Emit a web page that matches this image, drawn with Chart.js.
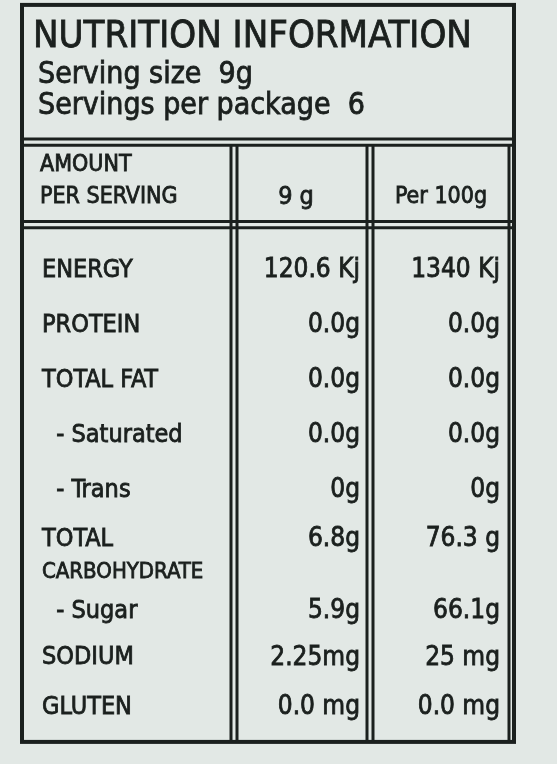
<!DOCTYPE html>
<html><head><meta charset="utf-8">
<script src="https://cdn.jsdelivr.net/npm/chart.js@4"></script>
<style>html,body{margin:0;padding:0;background:#e2e8e5}#wrap{width:557px;height:764px}</style>
</head><body><div id="wrap"><canvas id="c"></canvas></div>
<script>
var title = 'NUTRITION INFORMATION';
var serving = ['Serving size  9g', 'Servings per package  6'];
var headers = ['9 g', 'Per 100g'];
var nutrients = ['ENERGY', 'PROTEIN', 'TOTAL FAT', '  - Saturated', '  - Trans', 'TOTAL', '  - Sugar', 'SODIUM', 'GLUTEN'];
var perServe = ['120.6 Kj', '0.0g', '0.0g', '0.0g', '0g', '6.8g', '5.9g', '2.25mg', '0.0 mg'];
var per100 = ['1340 Kj', '0.0g', '0.0g', '0.0g', '0g', '76.3 g', '66.1g', '25 mg', '0.0 mg'];
var rowSteps = [0, 1, 2, 3, 4, 4.9, 6.2, 7.05, 7.95];

const ink = '#1b201e';
const FONT = '"Liberation Sans Narrow", "DejaVu Sans Condensed", "Liberation Sans", sans-serif';

function txt(ctx, s, x, y, size, align, maxW) {
    ctx.font = size + 'px ' + FONT;
    ctx.textAlign = align;
    ctx.textBaseline = 'middle';
    ctx.lineWidth = 0.8;
    if (maxW) { ctx.fillText(s, x, y, maxW); ctx.strokeText(s, x, y, maxW); }
    else { ctx.fillText(s, x, y); ctx.strokeText(s, x, y); }
}

const labelPlugin = {
    id: 'label',
    afterDraw(chart) {
        const ctx = chart.ctx;
        const xs = chart.scales.x, ys = chart.scales.y;
        const X = v => xs.getPixelForValue(v), Y = v => ys.getPixelForValue(v);
        const bottom = 8.58;
        ctx.save();
        ctx.fillStyle = ink;
        ctx.strokeStyle = ink;
        // frame
        ctx.lineWidth = 4;
        ctx.strokeRect(X(22), Y(-4.82), X(514) - X(22), Y(bottom) - Y(-4.82));
        ctx.lineWidth = 3;
        [-2.38, -2.27, -0.88, -0.77].forEach(function (h) {
            ctx.beginPath(); ctx.moveTo(X(22), Y(h)); ctx.lineTo(X(514), Y(h)); ctx.stroke();
        });
        [231, 237, 367, 373, 509].forEach(function (vx) {
            ctx.beginPath(); ctx.moveTo(X(vx), Y(-2.27)); ctx.lineTo(X(vx), Y(bottom)); ctx.stroke();
        });

        txt(ctx, title, X(33), Y(-4.24), 38, 'left', 462);
        txt(ctx, serving[0], X(38), Y(-3.55), 30, 'left', 250);
        txt(ctx, serving[1], X(38), Y(-2.97), 30, 'left', 355);
        txt(ctx, 'AMOUNT', X(40), Y(-1.91), 23, 'left', 118);
        txt(ctx, 'PER SERVING', X(40), Y(-1.32), 23, 'left', 165);
        txt(ctx, headers[0], X(296), Y(-1.32), 25, 'center');
        txt(ctx, headers[1], X(441), Y(-1.32), 23, 'center', 114);

        nutrients.forEach(function (n, i) {
            const y = Y(rowSteps[i]);
            txt(ctx, n, X(42), y, 25, 'left');
            if (i === 5) txt(ctx, 'CARBOHYDRATE', X(42), Y(rowSteps[i] + 0.6), 22, 'left', 188);
            txt(ctx, perServe[i], X(360), y, 26, 'right');
            txt(ctx, per100[i], X(500), y, 26, 'right');
        });
        ctx.restore();
    }
};

new Chart(document.getElementById('c'), {
    type: 'scatter',
    data: { datasets: [{ data: [] }] },
    options: {
        responsive: true,
        maintainAspectRatio: false,
        animation: false,
        layout: { padding: 0 },
        plugins: { legend: { display: false }, tooltip: { enabled: false } },
        scales: {
            x: { type: 'linear', min: 0, max: 557, display: false },
            y: { type: 'linear', min: -270 / 55, max: (764 - 270) / 55, reverse: true, display: false }
        }
    },
    plugins: [labelPlugin]
});
</script>
</body></html>
